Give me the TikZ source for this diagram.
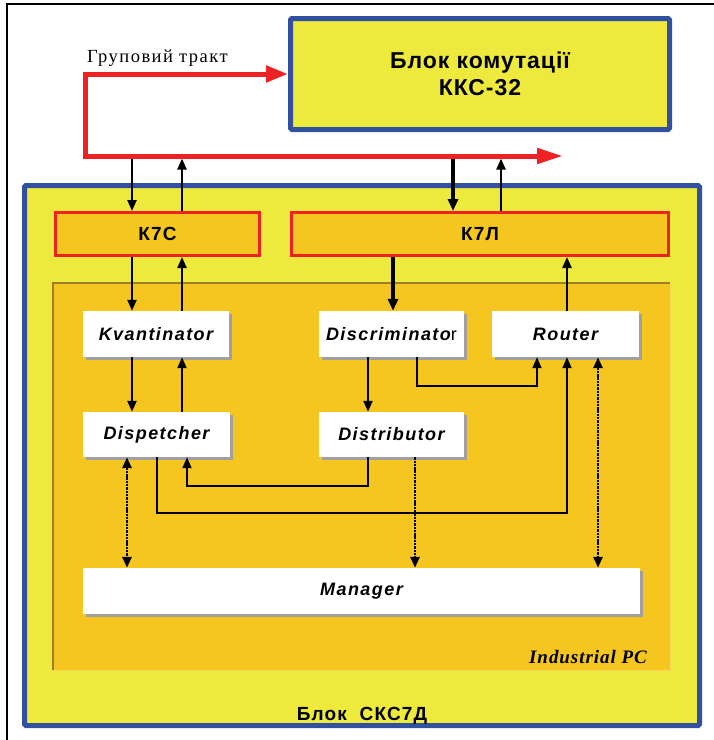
\documentclass[tikz,border=0pt]{standalone}
\usepackage{fontspec}
\setmainfont{Liberation Serif}
\newfontfamily\kfont[LetterSpace=6]{Liberation Sans}
\newfontfamily\tfont[LetterSpace=4]{Liberation Sans}
\newfontfamily\wfont[LetterSpace=8]{Liberation Sans}
\newfontfamily\plainsans{Liberation Sans}
\newfontfamily\grfont[LetterSpace=8]{Liberation Serif}
\newfontfamily\ipcfont[LetterSpace=5]{Liberation Serif}
\usetikzlibrary{arrows.meta,calc,shadows}
\definecolor{byellow}{RGB}{237,233,61}
\definecolor{bblue}{RGB}{50,80,160}
\definecolor{borange}{RGB}{245,198,32}
\definecolor{bred}{RGB}{238,34,36}
\definecolor{bbrown}{RGB}{160,125,40}
\definecolor{blight}{RGB}{252,215,90}
\definecolor{shadowgray}{RGB}{160,160,160}
\begin{document}
\begin{tikzpicture}[x=1pt,y=-1pt,
  bigbox/.style={draw=bblue,line width=5pt,fill=byellow,rounded corners=1.5pt,inner sep=0pt,outer sep=0pt},
  kbox/.style={draw=bred,line width=3pt,fill=borange,inner sep=0pt,minimum height=43pt,font=\kfont\bfseries\fontsize{19}{22}\selectfont},
  wbox/.style={fill=white,inner sep=0pt,minimum height=46pt,drop shadow={shadow xshift=2.5pt,shadow yshift=-2.5pt,fill=shadowgray,opacity=1},font=\wfont\bfseries\itshape\fontsize{18}{21}\selectfont},
  tip/.tip={Triangle[length=11pt,width=9pt]},
  arr/.style={line width=2.2pt,-tip},
  tarr/.style={line width=3.8pt,-{Triangle[length=12pt,width=10pt]}},
  barr/.style={line width=1.8pt,-tip},
  dotl/.style={line width=2.8pt,dash pattern=on 2.4pt off 0.9pt},
  redarr/.style={draw=bred,line width=5pt}]
\useasboundingbox (0,0) rectangle (714,740);
\fill[white] (0,0) rectangle (714,740);
\draw[line width=1.5pt] (7,740) -- (7,4) -- (714,4);

% big block
\node[bigbox,minimum width=675pt,minimum height=540pt] (skc) at (362,455.5) {};
\node[fill=borange,inner sep=0pt,outer sep=0pt,minimum width=617pt,minimum height=387pt] (ipc) at (361.5,476.5) {};
\draw[blight,line width=1pt] (ipc.south west) -- (ipc.south east) -- (ipc.north east);
\draw[bbrown,line width=1.2pt] (ipc.south west) -- (ipc.north west) -- (ipc.north east);

% top block
\node[bigbox,minimum width=379pt,minimum height=111pt,align=center,font=\tfont\bfseries\fontsize{23}{27}\selectfont] (kks) at (480,74) {Блок комутації\\ККС-32};

% K boxes
\node[kbox,minimum width=204pt] (k7c) at (157.5,234) {К7С};
\node[kbox,minimum width=377pt] (k7l) at (480,234) {К7Л};

% white boxes
\node[wbox,minimum width=146pt] (kv) at (156,334) {Kvantinator};
\node[wbox,minimum width=145pt] (disc) at (391.5,334) {Discriminato{\plainsans\mdseries\upshape r}};
\node[wbox,minimum width=147pt] (rout) at (565.5,334) {Router};
\node[wbox,minimum width=147pt,minimum height=45pt] (disp) at (156.5,434.5) {Dispetcher};
\node[wbox,minimum width=145pt,minimum height=45pt] (distr) at (391.5,434.5) {Distributor};
\node[wbox,minimum width=557pt] (man) at (361.5,591) {Manager};

% helper coordinates
\coordinate (xa) at (132,0);
\coordinate (xb) at (182,0);
\coordinate (xc) at (453,0);
\coordinate (xd) at (501,0);
\coordinate (xe) at (393,0);
\coordinate (xf) at (567,0);
\coordinate (xg) at (368,0);
\coordinate (xh) at (417,0);
\coordinate (xi) at (537,0);
\coordinate (xj) at (187,0);
\coordinate (xk) at (157,0);
\coordinate (xl) at (127,0);
\coordinate (xm) at (415,0);
\coordinate (xn) at (598,0);
\coordinate (hy1) at (0,386);
\coordinate (hy2) at (0,486);
\coordinate (hy3) at (0,513);
\coordinate (redc) at (0,156);
\coordinate (redb) at (0,158.5);
\coordinate (redl) at (85,156);
\coordinate (redend) at (563,156);
\coordinate (kksw) at ($(kks.west)+(-2.5,0)$);

% black connectors
\draw[arr] (xa |- redc) -- (xa |- k7c.north);
\draw[arr] (xb |- k7c.north) -- (xb |- redb);
\draw[arr] (xa |- k7c.south) -- (xa |- kv.north);
\draw[arr] (xb |- kv.north) -- (xb |- k7c.south);
\draw[arr] (xa |- kv.south) -- (xa |- disp.north);
\draw[arr] (xb |- disp.north) -- (xb |- kv.south);
\draw[tarr] (xc |- redc) -- (xc |- k7l.north);
\draw[arr] (xd |- k7l.north) -- (xd |- redb);
\draw[tarr] (xe |- k7l.south) -- (xe |- disc.north);
\draw[arr] (xf |- rout.north) -- (xf |- k7l.south);
\draw[arr] (xg |- disc.south) -- (xg |- distr.north);
\draw[barr] (xh |- disc.south) -- (xh |- hy1) -- (xi |- hy1) -- (xi |- rout.south);
\draw[barr] (xg |- distr.south) -- (xg |- hy2) -- (xj |- hy2) -- (xj |- disp.south);
\draw[barr] (xk |- disp.south) -- (xk |- hy3) -- (xf |- hy3) -- (xf |- rout.south);

% dotted connectors
\draw[dotl,tip-tip] (xl |- disp.south) -- (xl |- man.north);
\draw[dotl,-tip] (xm |- distr.south) -- (xm |- man.north);
\draw[dotl,tip-tip] (xn |- rout.south) -- (xn |- man.north);

% red group path
\draw[redarr,{Triangle[length=22pt,width=16pt]}-{Triangle[length=26pt,width=15pt]}] (kksw) -| (redl) -- (redend);

% labels
\node[anchor=base west,inner sep=0pt,font=\grfont\fontsize{18.5}{22}\selectfont] (gr) at (87,62) {Груповий тракт};
\node[anchor=base east,inner sep=0pt,font=\ipcfont\bfseries\itshape\fontsize{19}{22}\selectfont] (ipcl) at (647,663) {Industrial PC};
\node[anchor=base,inner sep=0pt,font=\kfont\bfseries\fontsize{19}{22}\selectfont] (skcl) at (362,720) {Блок\ \ СКС7Д};
\end{tikzpicture}
\end{document}
